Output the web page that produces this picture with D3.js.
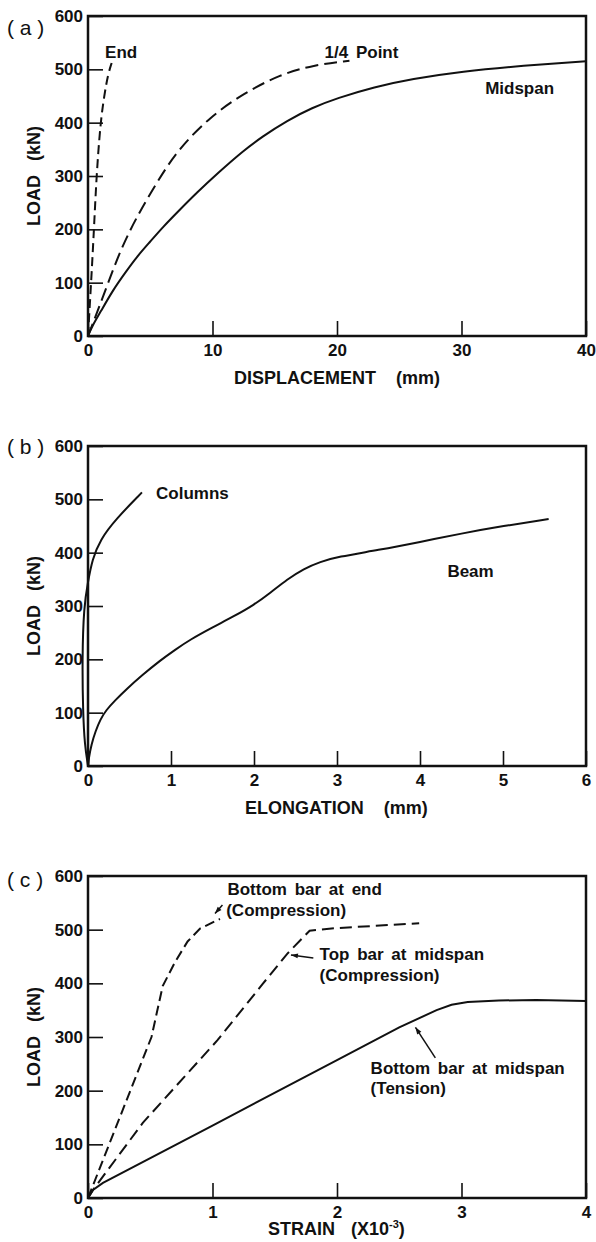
<!DOCTYPE html>
<html>
<head>
<meta charset="utf-8">
<script src="https://cdn.jsdelivr.net/npm/d3@7"></script>
<style>
  body { margin: 0; background: #fff; }
  svg text { font-family: "Liberation Sans", Arial, Helvetica, sans-serif; font-weight: bold; fill: #111; }
</style>
</head>
<body>
<div id="chart"></div>
<script>
// ---- data ----
// panel (a): load vs displacement, [mm, kN]
const endPts = [[0,0],[0.25,100],[0.48,200],[0.68,300],[1.0,400],[1.3,450],[1.6,490],[1.9,512]];
const quarterPts = [[0,0],[0.4,24],[1.5,92],[2.6,161],[3.9,223],[5.5,287],[7.2,349],[9.8,411],[12.5,455],[15.4,490],[18.1,508],[21,516]];
const midspanPts = [[0,0],[0.3,17],[1,45],[2,86],[3,119],[3.9,148],[5,177],[6,204],[7.3,235],[8.7,268],[10.5,307],[12.4,346],[14,374],[16,404],[18,428],[20,446],[23,467],[26,482],[30,496],[35,507],[40,515]];

// panel (b): load vs elongation, [mm, kN]
const columnsPts = [[0,0],[-0.04,40],[-0.06,100],[-0.07,200],[-0.05,300],[0,345],[0.05,387],[0.15,425],[0.33,462],[0.65,513]];
const beamPts = [[0,0],[0.01,15],[0.04,40],[0.09,65],[0.15,88],[0.22,105],[0.32,122],[0.47,145],[0.65,170],[0.87,198],[1.05,218],[1.23,237],[1.5,260],[1.75,280],[2.0,302],[2.2,325],[2.4,350],[2.6,370],[2.8,383],[3.0,392],[3.5,405],[4.0,420],[4.5,436],[5.0,450],[5.55,463]];

// panel (c): load vs strain, [x10^-3, kN]
const botEndPts = [[0,0],[0.51,300],[0.6,395],[0.7,440],[0.8,478],[0.9,502],[0.97,510],[1.06,520]];
const topMidPts = [[0,0],[0.04,15],[0.44,140],[1.04,294],[1.4,398],[1.6,455],[1.78,498],[2.0,503],[2.3,507],[2.66,512]];
const botMidPts = [[0,0],[0.04,15],[0.12,28],[1.0,135],[2.0,257],[2.5,318],[2.8,350],[2.92,360],[3.05,365],[3.3,368],[3.6,369],[4.0,367]];

const loadTicks = [0,100,200,300,400,500,600];
const dispTicks = [0,10,20,30,40];
const elongTicks = [0,1,2,3,4,5,6];
const strainTicks = [0,1,2,3,4];

const svg = d3.select("#chart").append("svg")
    .attr("width", 596)
    .attr("height", 1242);

const left = 88, right = 586;

function drawPanel(p) {
    const x = d3.scaleLinear().domain(p.xDomain).range([left, right]);
    const y = d3.scaleLinear().domain([0, 600]).range([p.bottom, p.top]);
    const g = svg.append("g");

    // axes (ticks point inward)
    const xAxis = g.append("g")
        .attr("transform", `translate(0,${p.bottom})`)
        .call(d3.axisBottom(x).tickValues(p.xTicks).tickFormat(d3.format("d"))
            .tickSize(-15).tickSizeOuter(0).tickPadding(8));
    const yAxis = g.append("g")
        .attr("transform", `translate(${left},0)`)
        .call(d3.axisLeft(y).tickValues(loadTicks).tickFormat(d3.format("d"))
            .tickSize(-15).tickSizeOuter(0).tickPadding(5));
    [xAxis, yAxis].forEach(a => {
        a.select(".domain").remove();
        a.selectAll(".tick line").attr("stroke", "#111").attr("stroke-width", 1.6);
        a.selectAll(".tick text").style("font-size", "17px").attr("fill", "#111");
    });

    // frame
    g.append("rect")
        .attr("x", left).attr("y", p.top)
        .attr("width", right - left).attr("height", p.bottom - p.top)
        .attr("fill", "none").attr("stroke", "#111").attr("stroke-width", 2.5);

    // curves
    p.series.forEach(s => {
        g.append("path")
            .datum(s.data)
            .attr("fill", "none")
            .attr("stroke", "#111")
            .attr("stroke-width", 2)
            .attr("stroke-dasharray", s.dash || null)
            .attr("d", d3.line().x(d => x(d[0])).y(d => y(d[1])).curve(s.curve || d3.curveBasis));
    });

    // annotations
    p.labels.forEach(l => {
        g.append("text")
            .attr("x", x(l.x)).attr("y", y(l.y)).attr("dy", "0.35em")
            .style("font-size", "17px").style("word-spacing", "3px")
            .text(l.text);
    });
    (p.arrows || []).forEach(a => {
        const x1 = x(a.from[0]), y1 = y(a.from[1]), x2 = x(a.to[0]), y2 = y(a.to[1]);
        const ang = Math.atan2(y2 - y1, x2 - x1);
        g.append("line")
            .attr("x1", x1).attr("y1", y1).attr("x2", x2).attr("y2", y2)
            .attr("stroke", "#111").attr("stroke-width", 1.5);
        const hl = 7, hw = 2.5;
        const bx = x2 - hl * Math.cos(ang), by = y2 - hl * Math.sin(ang);
        g.append("path")
            .attr("d", `M${x2},${y2}L${bx - hw * Math.sin(ang)},${by + hw * Math.cos(ang)}L${bx + hw * Math.sin(ang)},${by - hw * Math.cos(ang)}Z`)
            .attr("fill", "#111");
    });

    // axis titles
    const mid = (p.top + p.bottom) / 2;
    const yt = g.append("text")
        .attr("transform", `translate(40,${mid}) rotate(-90)`)
        .attr("text-anchor", "middle")
        .style("font-size", "18px");
    yt.append("tspan").text("LOAD");
    yt.append("tspan").attr("dx", 14).text("(kN)");

    const xt = g.append("text")
        .attr("x", p.xTitleX).attr("y", p.bottom + p.xTitleDy)
        .style("font-size", "18px");
    xt.append("tspan").text(p.xTitle[0]);
    xt.append("tspan").attr("dx", p.xTitleGap).text(p.xTitle[1]);
    if (p.xTitle[2]) {
        xt.append("tspan").attr("dy", -7).style("font-size", "11px").text(p.xTitle[2]);
        xt.append("tspan").attr("dy", 7).text(")");
    }

    g.append("text")
        .attr("x", 7).attr("y", p.tag[1]).attr("dy", "0.35em")
        .style("font-size", "21px").style("font-weight", "normal")
        .attr("xml:space", "preserve")
        .text(p.tag[0]);
}

drawPanel({
    top: 16, bottom: 336, xDomain: [0, 40], xTicks: dispTicks,
    xTitle: ["DISPLACEMENT", "(mm)"], xTitleX: 234, xTitleGap: 20, xTitleDy: 48,
    tag: ["( a )", 28],
    series: [
        {data: endPts, dash: "9,5"},
        {data: quarterPts, dash: "13,6"},
        {data: midspanPts}
    ],
    labels: [
        {text: "End", x: 1.37, y: 532},
        {text: "1/4 Point", x: 19.0, y: 532},
        {text: "Midspan", x: 31.9, y: 465}
    ]
});

drawPanel({
    top: 446, bottom: 766, xDomain: [0, 6], xTicks: elongTicks,
    xTitle: ["ELONGATION", "(mm)"], xTitleX: 245, xTitleGap: 20, xTitleDy: 48,
    tag: ["( b )", 447],
    series: [
        {data: columnsPts},
        {data: beamPts}
    ],
    labels: [
        {text: "Columns", x: 0.82, y: 512},
        {text: "Beam", x: 4.33, y: 366}
    ]
});

drawPanel({
    top: 876, bottom: 1198, xDomain: [0, 4], xTicks: strainTicks,
    xTitle: ["STRAIN", "(X10", "-3"], xTitleX: 268, xTitleGap: 16, xTitleDy: 37,
    tag: ["( c )", 880],
    series: [
        {data: botEndPts, dash: "10,5", curve: d3.curveLinear},
        {data: topMidPts, dash: "12,6", curve: d3.curveLinear},
        {data: botMidPts, curve: d3.curveLinear}
    ],
    labels: [
        {text: "Bottom bar at end", x: 1.12, y: 576},
        {text: "(Compression)", x: 1.11, y: 537},
        {text: "Top bar at midspan", x: 1.86, y: 455},
        {text: "(Compression)", x: 1.86, y: 416},
        {text: "Bottom bar at midspan", x: 2.27, y: 242},
        {text: "(Tension)", x: 2.27, y: 205}
    ],
    arrows: [
        {from: [1.08, 546], to: [1.02, 530]},
        {from: [1.81, 447], to: [1.63, 453]},
        {from: [2.79, 261], to: [2.63, 318]}
    ]
});
</script>
</body>
</html>
